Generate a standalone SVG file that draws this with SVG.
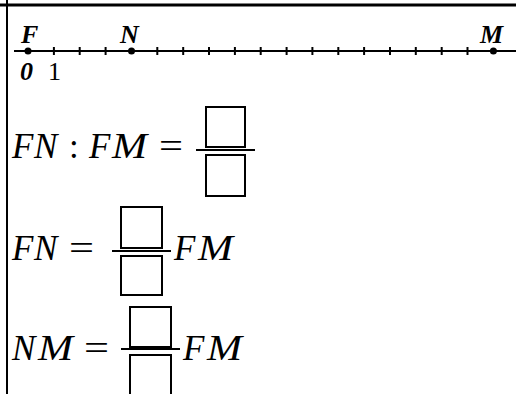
<svg xmlns="http://www.w3.org/2000/svg" width="516" height="394" viewBox="0 0 516 394">
<style>
.ln{stroke:#000;fill:none}
.box{stroke:#000;stroke-width:2;fill:#fff}
.bar{stroke:#000;stroke-width:2}
.tick{stroke:#000;stroke-width:2}
.lab{font-family:"Liberation Serif",serif;font-style:italic;font-weight:bold;font-size:26px;fill:#000}
.num{font-family:"Liberation Serif",serif;font-size:26px;fill:#000}
.m{font-family:"Liberation Serif",serif;font-style:italic;font-size:35px;fill:#000}
.u{font-family:"Liberation Serif",serif;font-size:35px;fill:#000}
</style>
<rect width="516" height="394" fill="#fff"/>
<g id="frame">
<line class="ln" x1="0" y1="5" x2="516" y2="5" stroke-width="3"/>
<line class="ln" x1="7" y1="0" x2="7" y2="394" stroke-width="2"/>
</g>
<g id="numberline">
<line class="ln" x1="14" y1="51" x2="516" y2="51" stroke-width="2"/>
<g class="tick">
<line x1="53.9" y1="47" x2="53.9" y2="55"/><line x1="79.7" y1="47" x2="79.7" y2="55"/><line x1="105.6" y1="47" x2="105.6" y2="55"/>
<line x1="157.3" y1="47" x2="157.3" y2="55"/><line x1="183.2" y1="47" x2="183.2" y2="55"/><line x1="209" y1="47" x2="209" y2="55"/>
<line x1="234.9" y1="47" x2="234.9" y2="55"/><line x1="260.7" y1="47" x2="260.7" y2="55"/><line x1="286.6" y1="47" x2="286.6" y2="55"/>
<line x1="312.4" y1="47" x2="312.4" y2="55"/><line x1="338.3" y1="47" x2="338.3" y2="55"/><line x1="364.1" y1="47" x2="364.1" y2="55"/>
<line x1="390" y1="47" x2="390" y2="55"/><line x1="415.8" y1="47" x2="415.8" y2="55"/><line x1="441.7" y1="47" x2="441.7" y2="55"/>
<line x1="467.5" y1="47" x2="467.5" y2="55"/>
</g>
<circle cx="28" cy="51" r="3.5"/>
<circle cx="131.5" cy="51" r="3.5"/>
<circle cx="493.4" cy="51" r="3.5"/>
<text class="lab" x="21" y="43">F</text>
<text class="lab" x="120" y="43">N</text>
<text class="lab" x="480" y="43">M</text>
<text class="lab" x="20" y="80">0</text>
<text class="num" x="48" y="80">1</text>
</g>
<g id="eq1">
<text class="m" y="158"><tspan x="12">F</tspan><tspan x="34">N</tspan></text>
<text class="u" x="69" y="158">:</text>
<text class="m" x="89" y="158">F</text>
<text class="m" x="112" y="158" textLength="35" lengthAdjust="spacingAndGlyphs">M</text>
<text class="u" x="159" y="158" textLength="24" lengthAdjust="spacingAndGlyphs">=</text>
<rect class="box" x="206" y="107" width="39" height="40"/>
<line class="bar" x1="196" y1="150" x2="255" y2="150"/>
<rect class="box" x="206" y="155" width="39" height="41"/>
</g>
<g id="eq2">
<text class="m" y="260"><tspan x="12">F</tspan><tspan x="34">N</tspan></text>
<text class="u" x="69" y="260" textLength="25" lengthAdjust="spacingAndGlyphs">=</text>
<rect class="box" x="121" y="207" width="41" height="41"/>
<line class="bar" x1="112" y1="251" x2="171" y2="251"/>
<rect class="box" x="121" y="256" width="41" height="39"/>
<text class="m" x="174" y="260">F</text>
<text class="m" x="198" y="260" textLength="35" lengthAdjust="spacingAndGlyphs">M</text>
</g>
<g id="eq3">
<text class="m" x="12" y="360">N</text>
<text class="m" x="38" y="360" textLength="35" lengthAdjust="spacingAndGlyphs">M</text>
<text class="u" x="84" y="360" textLength="25" lengthAdjust="spacingAndGlyphs">=</text>
<rect class="box" x="130" y="307" width="41" height="40"/>
<line class="bar" x1="121" y1="349" x2="180" y2="349"/>
<rect class="box" x="130" y="355" width="41" height="45"/>
<text class="m" x="183" y="360">F</text>
<text class="m" x="207" y="360" textLength="35" lengthAdjust="spacingAndGlyphs">M</text>
</g>
</svg>
